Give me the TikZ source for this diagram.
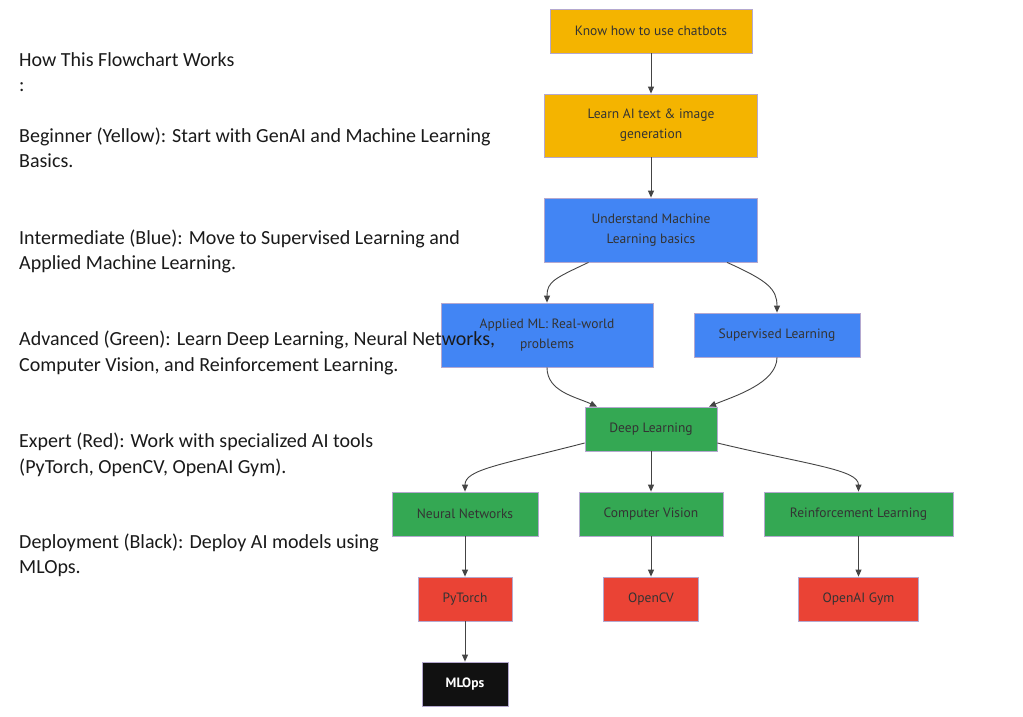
\documentclass[tikz,border=0pt]{standalone}
\usepackage{fontspec}
\setmainfont{Carlito}
\newfontfamily\nodefont{PT Sans}
\usetikzlibrary{arrows.meta,calc}
\definecolor{cy}{HTML}{F4B400}
\definecolor{cb}{HTML}{4285F4}
\definecolor{cg}{HTML}{34A853}
\definecolor{cr}{HTML}{EA4335}
\definecolor{ck}{HTML}{111111}
\definecolor{bd}{HTML}{B4A8CF}
\definecolor{ed}{HTML}{444444}
\definecolor{tx}{HTML}{333333}
\definecolor{lg}{HTML}{1A1A1A}
\begin{document}
\begin{tikzpicture}[x=1pt,y=-1pt,
  box/.style={draw=bd, line width=0.8pt, inner sep=0pt, align=center, text=tx,
    font=\nodefont\fontsize{13.5}{20}\selectfont, minimum height=44},
  arr/.style={draw=ed, line width=0.9pt, -{Triangle[length=7pt,width=6pt]}},
  legend/.style={anchor=base west, inner sep=0pt, text=lg, font=\fontsize{20}{24}\selectfont}]
\fill[white] (0,0) rectangle (1023,716);
\useasboundingbox (0,0) rectangle (1023,716);

\node[box, fill=cy, minimum width=202] (chat) at (651,31) {Know how to use chatbots};
\node[box, fill=cy, minimum width=213, minimum height=63] (gen) at (651,125.5) {Learn AI text \& image\\generation};
\node[box, fill=cb, minimum width=213, minimum height=64] (und) at (651,230) {Understand Machine\\Learning basics};
\node[box, fill=cb, minimum width=212, minimum height=64] (app) at (547,335) {Applied ML: Real-world\\problems};
\node[box, fill=cb, minimum width=166] (sup) at (777,335) {Supervised Learning};
\node[box, fill=cg, minimum width=132] (deep) at (651,429) {Deep Learning};
\node[box, fill=cg, minimum width=146] (nn) at (465,514) {Neural Networks};
\node[box, fill=cg, minimum width=144] (cv) at (651,514) {Computer Vision};
\node[box, fill=cg, minimum width=189] (rl) at (858.5,514) {Reinforcement Learning};
\node[box, fill=cr, minimum width=94] (pt) at (465,599) {PyTorch};
\node[box, fill=cr, minimum width=95] (ocv) at (651,599) {OpenCV};
\node[box, fill=cr, minimum width=120] (gym) at (858.5,599) {OpenAI Gym};
\node[box, fill=ck, text=white, font=\nodefont\bfseries\fontsize{13.5}{20}\selectfont, minimum width=86] (ml) at (465,684) {MLOps};

\draw[arr] (chat) -- (gen);
\draw[arr] (gen) -- (und);
\draw[arr] ($(und.south)+(-62.5,0)$) .. controls +(-34,16) and +(0,-21) .. (app.north);
\draw[arr] ($(und.south)+(76,0)$) .. controls +(40,18) and +(0,-24) .. (sup.north);
\draw[arr] (app.south) .. controls +(0,24) and +(-22,-10) .. ($(deep.north)+(-54,0)$);
\draw[arr] (sup.south) .. controls +(0,26) and +(24,-10) .. ($(deep.north)+(58,0)$);
\draw[arr] ($(deep.west)+(0,14)$) .. controls +(-85,22) and +(0,-22) .. (nn.north);
\draw[arr] ($(deep.east)+(0,14)$) .. controls +(92,22) and +(0,-22) .. (rl.north);
\draw[arr] (deep) -- (cv);
\draw[arr] (nn) -- (pt);
\draw[arr] (cv) -- (ocv);
\draw[arr] (rl) -- (gym);
\draw[arr] (pt) -- (ml);

\node[legend] (t1) at (19,66) {How This Flowchart Works};
\node[legend] (t2) at (19,91) {:};
\node[legend] (t3) at (19,142) {Beginner (Yellow): Start with GenAI and Machine Learning};
\node[legend] (t4) at (19,167) {Basics.};
\node[legend] (t5) at (19,244) {Intermediate (Blue): Move to Supervised Learning and};
\node[legend] (t6) at (19,269) {Applied Machine Learning.};
\node[legend] (t7) at (19,345) {Advanced (Green): Learn Deep Learning, Neural Networks,};
\node[legend] (t8) at (19,371) {Computer Vision, and Reinforcement Learning.};
\node[legend] (t9) at (19,447) {Expert (Red): Work with specialized AI tools};
\node[legend] (t10) at (19,473) {(PyTorch, OpenCV, OpenAI Gym).};
\node[legend] (t11) at (19,548) {Deployment (Black): Deploy AI models using};
\node[legend] (t12) at (19,573) {MLOps.};
\end{tikzpicture}
\end{document}
